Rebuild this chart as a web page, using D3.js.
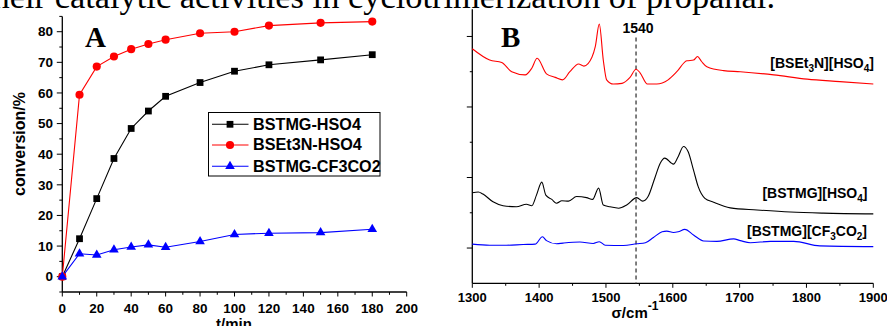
<!DOCTYPE html>
<html><head><meta charset="utf-8">
<script src="https://cdn.jsdelivr.net/npm/d3@7"></script>
<style>body{margin:0;background:#fff;overflow:hidden} svg{display:block}</style>
</head><body><svg id="c" width="887" height="326"></svg>
<script>
// ---------- Panel A data ----------
const times = [0,10,20,30,40,50,60,80,100,120,150,180];
const bstmgHSO4 = [0,12.4,25.5,38.6,48.4,54.1,58.9,63.4,67.1,69.2,70.8,72.5];
const bset3nHSO4 = [0,59.4,68.6,71.9,74.3,76.0,77.4,79.5,80.0,82.0,82.9,83.3];
const bstmgCF3CO2 = [0,7.5,7.1,8.8,9.7,10.4,9.6,11.5,13.8,14.2,14.4,15.5];
const seriesNames = ["BSTMG-HSO4","BSEt3N-HSO4","BSTMG-CF3CO2"];
const seriesColors = ["#000000","#ff0000","#0000ff"];
const xTicksA = [0,20,40,60,80,100,120,140,160,180,200];
const yTicksA = [0,10,20,30,40,50,60,70,80];

// ---------- Panel B data (wavenumber, arbitrary absorbance units) ----------
const wnRed  = [1300,1326,1344,1359,1379,1389,1397,1411,1424,1435,1446,1459,1467,1479,1484,1490,1496,1501,1511,1524,1536,1545,1551,1562,1576,1593,1606,1621,1631,1637,1643,1651,1676,1701,1751,1801,1850,1900];
const absRed = [6.65,6.33,6.26,6.00,5.91,6.10,6.38,5.94,5.84,5.77,6.00,6.22,6.16,6.41,6.71,7.35,6.33,5.77,5.65,5.67,5.84,6.07,5.97,5.65,5.65,5.77,6.00,6.31,6.33,6.43,6.29,6.14,6.03,6.00,5.91,5.79,5.72,5.65];
const wnBlack  = [1300,1309,1316,1331,1346,1366,1381,1389,1396,1404,1410,1419,1426,1434,1444,1456,1471,1480,1489,1496,1506,1519,1531,1546,1555,1563,1573,1581,1588,1601,1608,1616,1623,1631,1638,1648,1661,1686,1726,1776,1825,1900];
const absBlack = [2.57,2.59,2.53,2.31,2.20,2.17,2.24,2.20,2.50,2.87,2.50,2.38,2.27,2.34,2.33,2.46,2.43,2.38,2.70,2.22,2.17,2.13,2.22,2.43,2.33,2.46,2.98,3.40,3.55,3.38,3.59,3.88,3.73,3.21,2.74,2.41,2.30,2.14,2.08,2.02,1.99,1.97];
const wnBlue  = [1300,1326,1351,1376,1394,1405,1411,1426,1436,1461,1481,1490,1499,1526,1546,1559,1571,1584,1591,1601,1608,1618,1631,1646,1666,1691,1701,1716,1746,1781,1820,1900];
const absBlue = [1.11,1.08,1.08,1.10,1.11,1.32,1.21,1.12,1.14,1.17,1.13,1.18,1.08,1.07,1.12,1.15,1.30,1.46,1.48,1.44,1.46,1.53,1.37,1.20,1.19,1.26,1.21,1.15,1.19,1.19,1.06,1.04];
const xTicksB = [1300,1400,1500,1600,1700,1800,1900];
const markerWn = 1545;
const markerLabel = "1540";

const svg = d3.select("#c");
const FONT = "'Liberation Sans', Arial, Helvetica, sans-serif";
const SERIF = "'Liberation Serif', 'Times New Roman', serif";

// cut-off caption text at top
svg.append("text").attr("x",-17).attr("y",8).attr("font-family",SERIF).attr("font-size",34)
  .attr("textLength",792).attr("lengthAdjust","spacingAndGlyphs")
  .text("their catalytic activities in cyclotrimerization of propanal.");

// ================= Panel A =================
const xA = d3.scaleLinear().domain([0,200]).range([62.3,406.7]);
const yA = d3.scaleLinear().domain([-5,85]).range([292,16.4]);
const gA = svg.append("g");

function drawAxisLine(g, x1,y1,x2,y2){
  g.append("line").attr("x1",x1).attr("y1",y1).attr("x2",x2).attr("y2",y2)
   .attr("stroke","#000").attr("stroke-width",1.3);
}
// x axis A
drawAxisLine(gA, xA(0), yA(-5), xA(200), yA(-5));
d3.range(0,201,10).forEach(v=>{
  const major = v%20===0;
  gA.append("line").attr("x1",xA(v)).attr("x2",xA(v)).attr("y1",yA(-5)).attr("y2",yA(-5)+(major?4.5:2.8))
    .attr("stroke","#000").attr("stroke-width",1);
});
xTicksA.forEach(v=>{
  gA.append("text").attr("x",xA(v)).attr("y",312.5).attr("text-anchor","middle")
    .attr("font-family",FONT).attr("font-weight","bold").attr("font-size",13.5).text(v);
});
// y axis A
drawAxisLine(gA, xA(0), yA(-5), xA(0), yA(85));
d3.range(-5,86,5).forEach(v=>{
  const major = v%10===0;
  gA.append("line").attr("x1",xA(0)).attr("x2",xA(0)-(major?5.5:3)).attr("y1",yA(v)).attr("y2",yA(v))
    .attr("stroke","#000").attr("stroke-width",1);
});
yTicksA.forEach(v=>{
  gA.append("text").attr("x",53).attr("y",yA(v)+4.7).attr("text-anchor","end")
    .attr("font-family",FONT).attr("font-weight","bold").attr("font-size",13.5).text(v);
});
gA.append("text").attr("transform","translate(25,144) rotate(-90)").attr("text-anchor","middle")
  .attr("font-family",FONT).attr("font-weight","bold").attr("font-size",16).text("conversion/%");
gA.append("text").attr("x",234).attr("y",329).attr("text-anchor","middle")
  .attr("font-family",FONT).attr("font-weight","bold").attr("font-size",15).text("t/min");
gA.append("text").attr("x",85).attr("y",47.3).attr("font-family",SERIF).attr("font-weight","bold")
  .attr("font-size",29).text("A");

const seriesA = [bstmgHSO4, bset3nHSO4, bstmgCF3CO2];
const symbols = [d3.symbolSquare, d3.symbolCircle, d3.symbolTriangle];
const symSizes = [46, 52, 40];
const lineA = d3.line().x((d,i)=>xA(times[i])).y(d=>yA(d));
seriesA.forEach((s,k)=>{
  gA.append("path").attr("d",lineA(s)).attr("fill","none").attr("stroke",seriesColors[k]).attr("stroke-width",1.1);
});
seriesA.forEach((s,k)=>{
  gA.selectAll(null).data(s).enter().append("path")
    .attr("transform",(d,i)=>`translate(${xA(times[i])},${yA(d)})`)
    .attr("d",d3.symbol().type(symbols[k]).size(symSizes[k])())
    .attr("fill",seriesColors[k]);
});
// legend
const lg = gA.append("g");
lg.append("rect").attr("x",208.5).attr("y",112.5).attr("width",171.5).attr("height",63.5)
  .attr("fill","#fff").attr("stroke","#000").attr("stroke-width",1);
const legendRows = [124.3,145,166.3];
seriesNames.forEach((n,k)=>{
  const y = legendRows[k];
  lg.append("line").attr("x1",212).attr("x2",248.5).attr("y1",y).attr("y2",y).attr("stroke",seriesColors[k]).attr("stroke-width",1.1);
  lg.append("path").attr("transform",`translate(230,${y})`).attr("d",d3.symbol().type(symbols[k]).size(symSizes[k])()).attr("fill",seriesColors[k]);
  lg.append("text").attr("x",253).attr("y",y+5.3).attr("font-family",FONT).attr("font-weight","bold")
    .attr("font-size",16.2).text(n);
});

// ================= Panel B =================
const xB = d3.scaleLinear().domain([1300,1900]).range([472.3,873.3]);
const yB = d3.scaleLinear().domain([0,7.77]).range([283.3,9.3]);
const gB = svg.append("g");
drawAxisLine(gB, xB(1300), yB(0), xB(1900), yB(0));
d3.range(1300,1901,50).forEach(v=>{
  const major = v%100===0;
  gB.append("line").attr("x1",xB(v)).attr("x2",xB(v)).attr("y1",yB(0)).attr("y2",yB(0)+(major?4.5:2.5))
    .attr("stroke","#000").attr("stroke-width",1);
});
xTicksB.forEach(v=>{
  gB.append("text").attr("x",xB(v)).attr("y",302).attr("text-anchor","middle")
    .attr("font-family",FONT).attr("font-weight","bold").attr("font-size",13).text(v);
});
drawAxisLine(gB, xB(1300), yB(0), xB(1300), yB(7.77));
d3.range(1,8).forEach(v=>{
  const major = v%2===1;
  gB.append("line").attr("x1",xB(1300)).attr("x2",xB(1300)-(major?5.5:2.5)).attr("y1",yB(v)).attr("y2",yB(v))
    .attr("stroke","#000").attr("stroke-width",1);
});
const xl = gB.append("text").attr("x",635).attr("y",318).attr("text-anchor","middle")
  .attr("font-family",FONT).attr("font-weight","bold").attr("font-size",15);
xl.append("tspan").text("σ/cm");
xl.append("tspan").attr("dy",-8).attr("font-size",12).text("-1");

gB.append("text").attr("x",501).attr("y",46.7).attr("font-family",SERIF).attr("font-weight","bold")
  .attr("font-size",29).text("B");

// dashed marker
gB.append("line").attr("x1",xB(markerWn)).attr("x2",xB(markerWn)).attr("y1",37.5).attr("y2",yB(0))
  .attr("stroke","#555").attr("stroke-width",1.5).attr("stroke-dasharray","4,3");
gB.append("text").attr("x",xB(markerWn)+2).attr("y",33.3).attr("text-anchor","middle")
  .attr("font-family",FONT).attr("font-weight","bold").attr("font-size",14).text(markerLabel);

const spectra = [
  {wn:wnRed, ab:absRed, color:"#ff0000"},
  {wn:wnBlack, ab:absBlack, color:"#000000"},
  {wn:wnBlue, ab:absBlue, color:"#0000ff"}
];
spectra.forEach(s=>{
  const line = d3.line().x((d,i)=>xB(s.wn[i])).y(d=>yB(d)).curve(d3.curveMonotoneX);
  gB.append("path").attr("d",line(s.ab)).attr("fill","none").attr("stroke",s.color).attr("stroke-width",1.1);
});

function labelB(x,y,parts){
  const t = gB.append("text").attr("x",x).attr("y",y).attr("text-anchor","end")
    .attr("font-family",FONT).attr("font-weight","bold").attr("font-size",14);
  parts.forEach(p=>{
    if (typeof p === "string") t.append("tspan").text(p);
    else t.append("tspan").attr("dy",p.dy).attr("font-size",p.fs||14).text(p.t);
  });
}
labelB(874,68.3,["[BSEt",{t:"3",dy:4,fs:10},{t:"N][HSO",dy:-4},{t:"4",dy:4,fs:10},{t:"]",dy:-4}]);
labelB(867.5,198.3,["[BSTMG][HSO",{t:"4",dy:4,fs:10},{t:"]",dy:-4}]);
labelB(867,235.7,["[BSTMG][CF",{t:"3",dy:4,fs:10},{t:"CO",dy:-4},{t:"2",dy:4,fs:10},{t:"]",dy:-4}]);
</script></body></html>
